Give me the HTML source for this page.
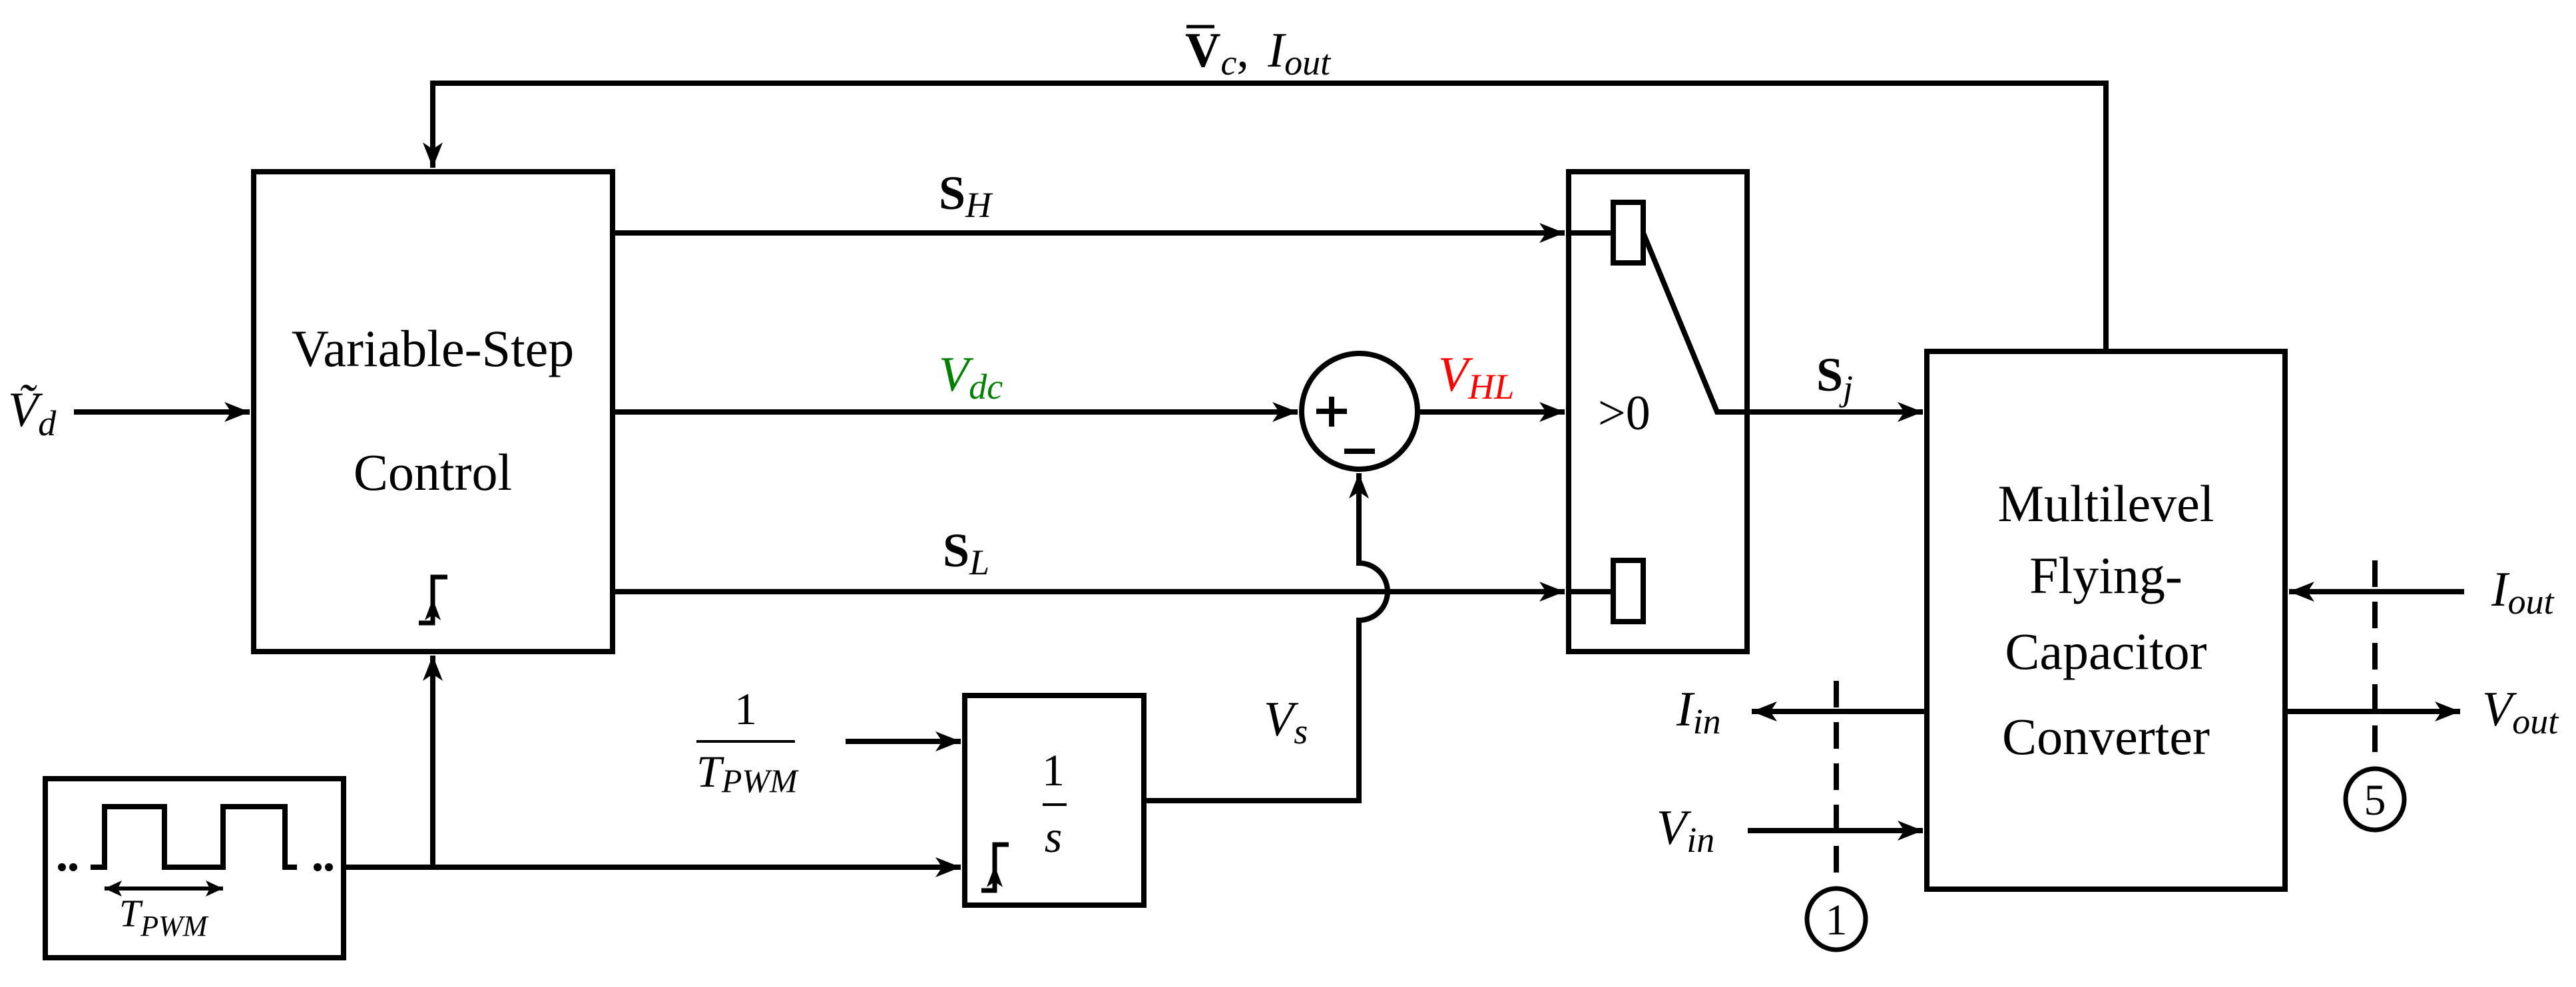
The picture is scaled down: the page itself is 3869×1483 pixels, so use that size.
<!DOCTYPE html>
<html><head><meta charset="utf-8"><style>
html,body{margin:0;padding:0;background:#fff}
svg{display:block}
text{font-family:"Liberation Serif","DejaVu Serif",serif;fill:#000}
.m{font-style:italic}
</style></head><body>
<svg width="3869" height="1483" viewBox="0 0 3869 1483" xmlns="http://www.w3.org/2000/svg" font-family="Liberation Serif, DejaVu Serif, serif">
<defs>
<marker id="a" markerUnits="userSpaceOnUse" markerWidth="40" markerHeight="34" refX="38" refY="17" orient="auto">
<path d="M0,2 L38,17 L0,32 L10,17 Z" fill="#000"/>
</marker>
</defs>
<g stroke="#000" stroke-width="8" fill="none">
<rect x="381" y="258" width="539" height="721"/>
<rect x="68" y="1170" width="448" height="269"/>
<rect x="1449" y="1045" width="269" height="315"/>
<rect x="2356" y="258" width="268" height="721"/>
<rect x="2894" y="528" width="538" height="808"/>
<rect x="2423" y="304" width="45" height="91"/>
<rect x="2423" y="842" width="45" height="92"/>
<circle cx="2042" cy="618" r="87"/>
<path d="M3163,528 V125 H650 V252" marker-end="url(#a)"/>
<path d="M111,619 H375" marker-end="url(#a)"/>
<path d="M920,350 H2350" marker-end="url(#a)"/>
<path d="M2356,350 H2423"/>
<path d="M920,619 H1949" marker-end="url(#a)"/>
<path d="M2129,619 H2350" marker-end="url(#a)"/>
<path d="M920,889 H2350" marker-end="url(#a)"/>
<path d="M2356,889 H2423"/>
<path d="M2468,350 L2579,619 H2888" marker-end="url(#a)"/>
<path d="M1718,1203 H2041 V932 A43,43 0 0 0 2041,846 V711" marker-end="url(#a)"/>
<path d="M650,1303 V985" marker-end="url(#a)"/>
<path d="M516,1303 H1443" marker-end="url(#a)"/>
<path d="M1270,1114 H1443" marker-end="url(#a)"/>
<path d="M136,1303 H157 V1212 H247 V1303 H335 V1212 H428 V1303 H446"/>
<path d="M157,1335 H335" stroke-width="6"/>
<path d="M629,936 H650 V867 H672" stroke-width="7"/>
<path d="M1474,1338 H1494 V1269 H1515" stroke-width="7"/>
<path d="M1046,1114 H1194" stroke-width="4"/>
<path d="M1566,1209 H1602" stroke-width="4"/>
<path d="M3701,889 H3438" marker-end="url(#a)"/>
<path d="M3432,1069 H3695" marker-end="url(#a)"/>
<path d="M2894,1069 H2631" marker-end="url(#a)"/>
<path d="M2625,1248 H2888" marker-end="url(#a)"/>
<path d="M3567,842 V1150" stroke-dasharray="40,22"/>
<path d="M2758,1023 V1330" stroke-dasharray="40,22"/>
<ellipse cx="3567" cy="1201" rx="44" ry="46" stroke-width="7"/>
<ellipse cx="2758" cy="1381" rx="44" ry="46" stroke-width="7"/>
</g>
<path d="M157,1335 l26,-12 l-6,12 l6,12 z M335,1335 l-26,-12 l6,12 l-6,12 z" fill="#000"/>
<path d="M650,904 l-9,24 l9,-6 l9,6 z M1494,1305 l-9,24 l9,-6 l9,6 z" fill="#000" stroke="#000" stroke-width="3"/>
<g stroke="#000" stroke-width="8"><path d="M1977,618 H2023 M2000,596 V641 M2019,678 H2065"/></g>
<g fill="#000"><circle cx="93" cy="1303" r="6"/><circle cx="110" cy="1303" r="6"/><circle cx="477" cy="1303" r="6"/><circle cx="494" cy="1303" r="6"/></g>
<text x="650" y="550" font-size="78" text-anchor="middle">Variable-Step</text>
<text x="650" y="736" font-size="78" text-anchor="middle">Control</text>
<text x="3163" y="783" font-size="78" text-anchor="middle">Multilevel</text>
<text x="3163" y="891" font-size="78" text-anchor="middle">Flying-</text>
<text x="3163" y="1005" font-size="78" text-anchor="middle">Capacitor</text>
<text x="3163" y="1133" font-size="78" text-anchor="middle">Converter</text>
<text x="2400" y="645" font-size="74">&gt;0</text>
<text x="1582" y="1180" font-size="68" text-anchor="middle">1</text>
<text x="1582" y="1280" font-size="68" text-anchor="middle" class="m">s</text>
<text x="1120" y="1088" font-size="68" text-anchor="middle">1</text>
<text x="1046" y="1182" font-size="68" class="m">T<tspan font-size="50" dy="8">PWM</tspan></text>
<text x="179" y="1392" font-size="58" class="m">T<tspan font-size="44" dy="14">PWM</tspan></text>
<text x="12" y="640" font-size="74" class="m">Ṽ<tspan font-size="54" dy="14">d</tspan></text>
<text x="1410" y="314" font-size="72" font-weight="bold">S<tspan font-size="54" dy="12" font-weight="normal" font-style="italic">H</tspan></text>
<text x="1416" y="851" font-size="72" font-weight="bold">S<tspan font-size="54" dy="12" font-weight="normal" font-style="italic">L</tspan></text>
<text x="1410" y="587" font-size="74" class="m" style="fill:#008000">V<tspan font-size="54" dy="12">dc</tspan></text>
<text x="2160" y="587" font-size="74" class="m" style="fill:#ff0000">V<tspan font-size="54" dy="12">HL</tspan></text>
<text x="2728" y="587" font-size="72" font-weight="bold">S<tspan font-size="54" dy="14" font-weight="normal" font-style="italic">j</tspan></text>
<text x="1898" y="1105" font-size="74" class="m">V<tspan font-size="54" dy="12">s</tspan></text>
<text x="1780" y="100" font-size="74" font-weight="bold">V<tspan font-size="54" dy="12" font-weight="normal" font-style="italic">c</tspan><tspan dy="-12" font-weight="normal">, </tspan><tspan font-style="italic" font-weight="normal" dx="10">I</tspan><tspan font-size="54" dy="12" font-style="italic" font-weight="normal">out</tspan></text>
<path d="M1782,40 H1824" stroke="#000" stroke-width="5"/>
<text x="3742" y="910" font-size="74" class="m">I<tspan font-size="54" dy="12">out</tspan></text>
<text x="3728" y="1090" font-size="74" class="m">V<tspan font-size="54" dy="12">out</tspan></text>
<text x="2518" y="1090" font-size="74" class="m">I<tspan font-size="54" dy="12">in</tspan></text>
<text x="2488" y="1268" font-size="74" class="m">V<tspan font-size="54" dy="12">in</tspan></text>
<text x="3567" y="1224" font-size="66" text-anchor="middle">5</text>
<text x="2758" y="1404" font-size="66" text-anchor="middle">1</text>
</svg>
</body></html>
